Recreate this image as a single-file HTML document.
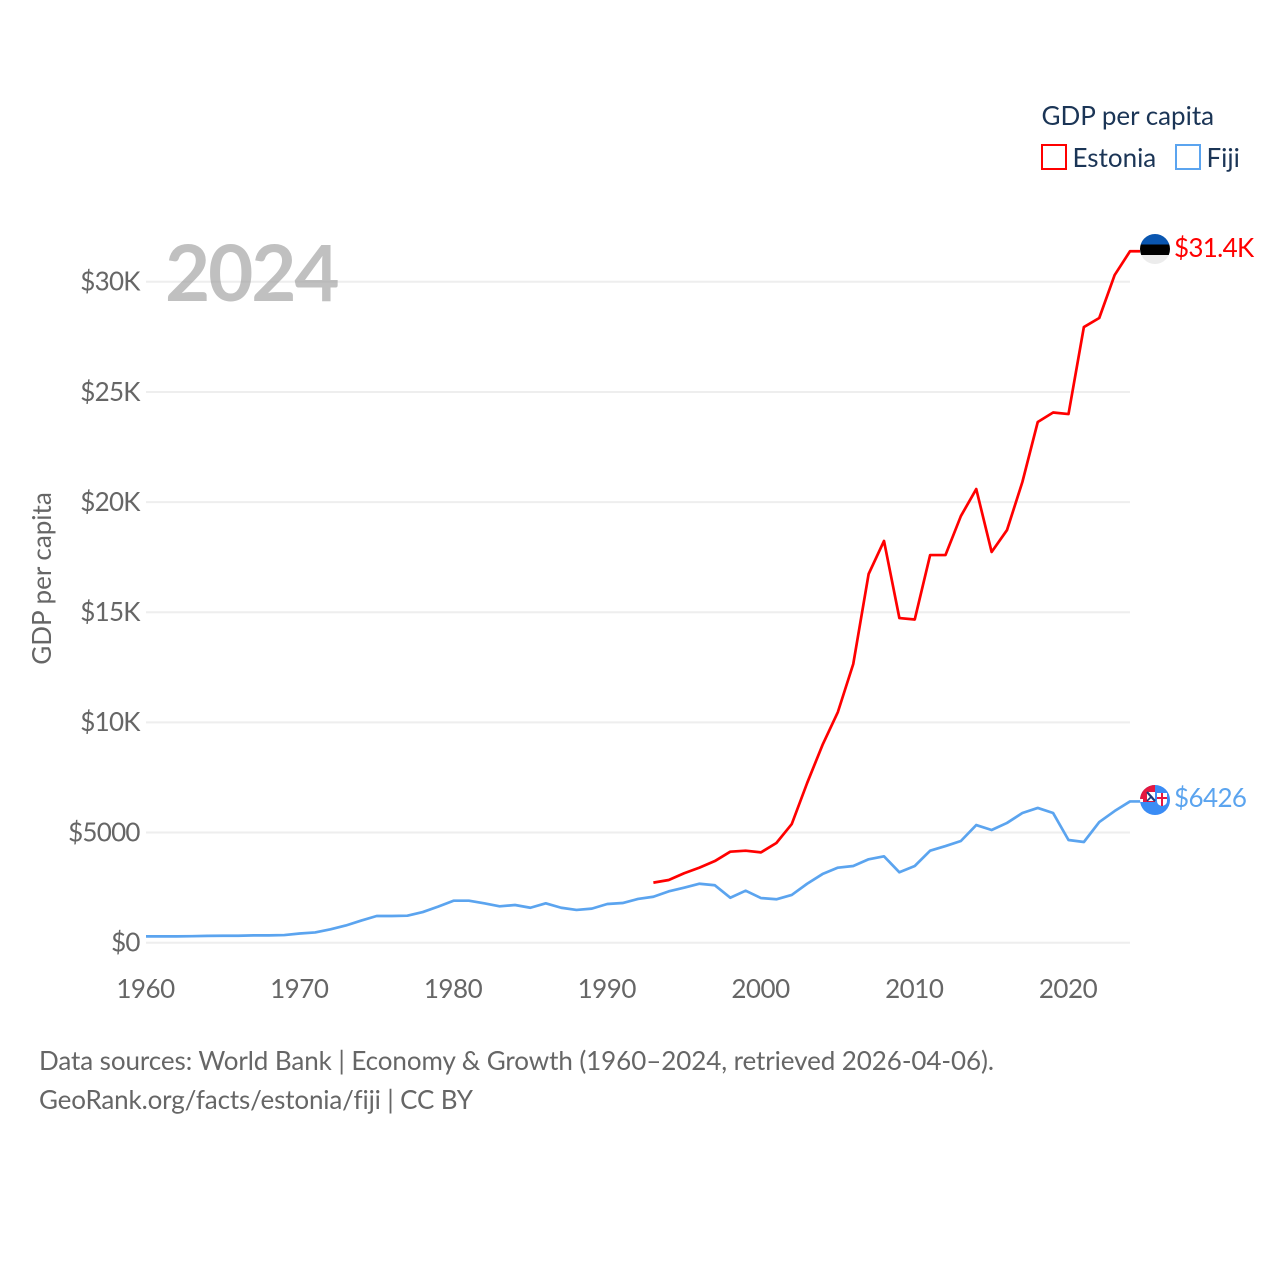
<!DOCTYPE html>
<html lang="en">
<head>
<meta charset="utf-8">
<title>GDP per capita: Estonia vs Fiji</title>
<style>
html,body{margin:0;padding:0;background:#fff;width:1280px;height:1280px;overflow:hidden}
svg{display:block;font-family:"Lato","Carlito","Liberation Sans",sans-serif;font-variant-ligatures:none}
</style>
</head>
<body>
<svg id="chart" xmlns="http://www.w3.org/2000/svg" width="1280" height="1280" viewBox="0 0 1280 1280">
  <rect x="0" y="0" width="1280" height="1280" fill="#ffffff"/>
  <g id="grid"></g>
  <g id="yticks"></g>
  <g id="xticks"></g>
  <text transform="translate(51 578.5) rotate(-90)" text-anchor="middle" font-size="26" fill="#666666">GDP per capita</text>
  <text x="165" y="301" font-size="78" font-weight="700" fill="#999999" fill-opacity="0.62" letter-spacing="-2.1">2024</text>
  <g id="series"></g>

  <defs>
    <clipPath id="clip-ee"><circle cx="1155" cy="249" r="15"/></clipPath>
    <clipPath id="clip-fj"><circle cx="1155" cy="800" r="15"/></clipPath>
  </defs>
  <g clip-path="url(#clip-ee)">
    <rect x="1140" y="234" width="30" height="10.5" fill="#0a56b0"/>
    <rect x="1140" y="244.5" width="30" height="10.5" fill="#000000"/>
    <rect x="1140" y="255" width="30" height="9" fill="#ececec"/>
  </g>
  <g clip-path="url(#clip-fj)">
    <rect x="1140" y="785" width="30" height="30" fill="#3a8cf5"/>
    <rect x="1140" y="785" width="15" height="17" fill="#e5173f"/>
    <rect x="1140" y="799" width="3" height="3" fill="#ffffff"/>
    <rect x="1147" y="792" width="8" height="9" fill="#ffffff"/>
    <path d="M1147 792l8 9" stroke="#1d3a78" stroke-width="2.2"/>
    <path d="M1147 801l5-5" stroke="#1d3a78" stroke-width="1.6"/>
    <path d="M1157 793h10v8q0 4-5 5q-5-1-5-5z" fill="#ffffff"/>
    <path d="M1162 793v13M1157 798h10" stroke="#e5173f" stroke-width="2"/>
  </g>
  <g id="endlabels"></g>

  <g>
    <text x="1041.5" y="125" font-size="26" fill="#1b3556">GDP per capita</text>
    <g>
      <rect x="1042" y="145" width="24" height="24" fill="none" stroke="#ff0000" stroke-width="2"/>
      <text x="1072.5" y="167" font-size="26" fill="#1b3556">Estonia</text>
    </g>
    <g>
      <rect x="1176" y="145" width="24" height="24" fill="none" stroke="#5ba4ef" stroke-width="2"/>
      <text x="1206.5" y="167" font-size="26" fill="#1b3556">Fiji</text>
    </g>
  </g>

  <text x="39" y="1070" font-size="26" fill="#666666" textLength="955" lengthAdjust="spacing">Data sources: World Bank | Economy &amp; Growth (1960–2024, retrieved 2026-04-06).</text>
  <text x="39" y="1109" font-size="26" fill="#666666" textLength="434" lengthAdjust="spacing">GeoRank.org/facts/estonia/fiji | CC BY</text>
</svg>
<script>
const yTickValues = [0, 5000, 10000, 15000, 20000, 25000, 30000];
const yTickLabels = ["$0", "$5000", "$10K", "$15K", "$20K", "$25K", "$30K"];
const xTickYears = [1960, 1970, 1980, 1990, 2000, 2010, 2020];
const fijiStartYear = 1960;
const fijiValues = [300,300,300,310,325,330,330,345,345,360,430,480,620,795,1020,1225,1225,1240,1405,1650,1920,1920,1800,1665,1725,1600,1800,1600,1500,1560,1770,1815,2000,2100,2345,2510,2690,2620,2055,2375,2040,1985,2180,2690,3130,3420,3495,3800,3935,3210,3495,4190,4400,4630,5355,5130,5450,5900,6130,5900,4675,4585,5490,5990,6426];
const estoniaStartYear = 1993;
const estoniaValues = [2740,2860,3165,3420,3720,4145,4190,4115,4540,5400,7260,8990,10485,12665,16750,18250,14750,14685,17610,17610,19380,20605,17750,18745,20925,23650,24080,24010,27960,28370,30320,31400];
const estoniaEndLabel = "$31.4K";
const fijiEndLabel = "$6426";

const NS = "http://www.w3.org/2000/svg";
function xScale(year) { return 146 + (year - 1960) * (1130 - 146) / 64; }
function yScale(value) { return 943 - value * 0.02203; }
function make(tag, parent, attrs, text) {
  const el = document.createElementNS(NS, tag);
  for (const k in attrs) el.setAttribute(k, attrs[k]);
  if (text !== undefined) el.textContent = text;
  parent.appendChild(el);
  return el;
}
const grid = document.getElementById("grid");
const yticks = document.getElementById("yticks");
const xticks = document.getElementById("xticks");
const series = document.getElementById("series");
const endlabels = document.getElementById("endlabels");

yTickValues.forEach(function (v, i) {
  const line = make("line", grid, {x1: 146, x2: 1130, y1: yScale(v) - 0.3, y2: yScale(v) - 0.3, stroke: "#eeeeee", "stroke-width": 2});
  
  
  const label = make("text", yticks, {x: 139.75, y: yScale(v) + 8.5, "text-anchor": "end", "font-size": 26, fill: "#666666", "letter-spacing": -0.75}, yTickLabels[i]);
  
  
});
xTickYears.forEach(function (yr) {
  const label = make("text", xticks, {x: xScale(yr) - 0.5, y: 998, "text-anchor": "middle", "font-size": 26, fill: "#666666", "letter-spacing": -0.5}, String(yr));
  
  
});
function linePath(startYear, values) {
  let d = "";
  values.forEach(function (v, i) {
    d += (i ? "L" : "M") + xScale(startYear + i).toFixed(2) + " " + yScale(v).toFixed(2);
  });
  const lastY = yScale(values[values.length - 1]).toFixed(2);
  return d + "L" + (xScale(startYear + values.length - 1) + 10).toFixed(2) + " " + lastY;
}
const fijiLine = make("path", series, {d: linePath(fijiStartYear, fijiValues), fill: "none", stroke: "#5ba4ef", "stroke-width": 2.7, "stroke-linejoin": "round"});


const estoniaLine = make("path", series, {d: linePath(estoniaStartYear, estoniaValues), fill: "none", stroke: "#ff0000", "stroke-width": 2.7, "stroke-linejoin": "round"});



const estoniaLast = make("text", endlabels, {x: 1174, y: yScale(estoniaValues[estoniaValues.length - 1]) + 5.7, "font-size": 26, fill: "#ff0000", "letter-spacing": -0.7}, estoniaEndLabel);


const fijiLast = make("text", endlabels, {x: 1174, y: yScale(fijiValues[fijiValues.length - 1]) + 5.7, "font-size": 26, fill: "#5ba4ef", "letter-spacing": -0.6}, fijiEndLabel);


</script>
</body>
</html>
